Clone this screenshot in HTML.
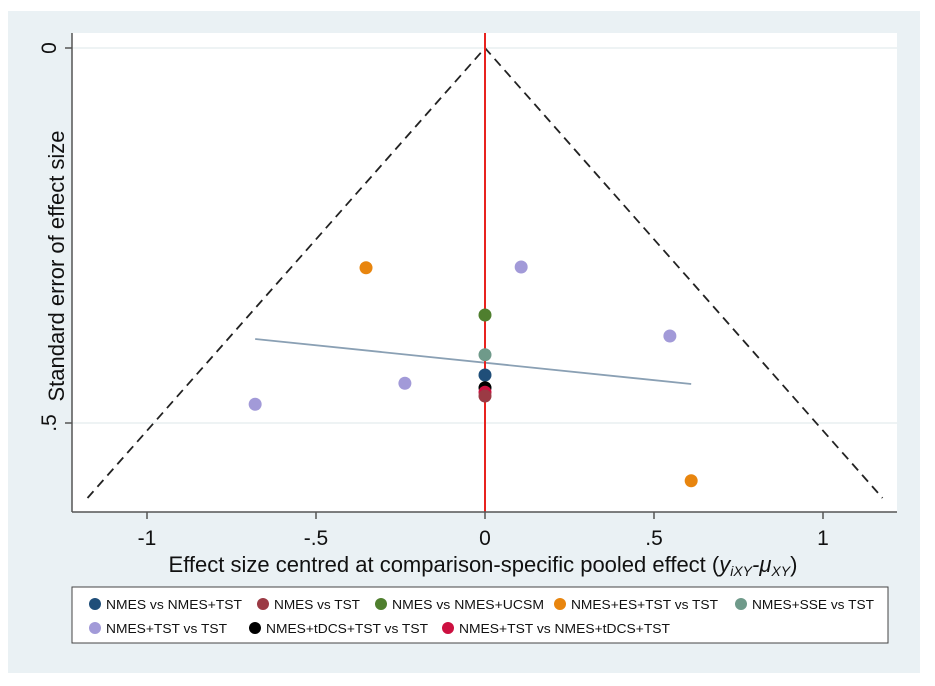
<!DOCTYPE html>
<html><head><meta charset="utf-8"><style>
body{margin:0;background:#fff;font-family:"Liberation Sans",sans-serif}
svg{display:block}
</style></head><body>
<svg id="c" width="935" height="686" xmlns="http://www.w3.org/2000/svg" font-family="Liberation Sans, sans-serif">
<rect x="8" y="11" width="912" height="662" fill="#eaf1f4"/>
<rect x="72" y="33" width="825" height="479" fill="#fff"/>
<g id="grid"></g>
<g id="marks"></g>
<line x1="72" y1="512" x2="897" y2="512" stroke="#555" stroke-width="1.5"/>
<line x1="72" y1="33" x2="72" y2="512" stroke="#555" stroke-width="1.5"/>
<g id="ticks"></g>
<text x="483" y="572" font-size="22" text-anchor="middle" fill="#111">Effect size centred at comparison-specific pooled effect (<tspan font-style="italic">y<tspan font-size="14" dy="4">iXY</tspan><tspan dy="-4">-μ</tspan><tspan font-size="14" dy="4">XY</tspan></tspan><tspan dy="-4">)</tspan></text>
<text transform="translate(64,266) rotate(-90)" font-size="22" text-anchor="middle" fill="#111">Standard error of effect size</text>
<rect x="72" y="587" width="816" height="56" fill="#fff" stroke="#444" stroke-width="1"/>
<g id="legend" font-size="13" fill="#111"></g>
</svg>
<script>
const seriesNames=["NMES vs NMES+TST","NMES vs TST","NMES vs NMES+UCSM","NMES+ES+TST vs TST","NMES+SSE vs TST","NMES+TST vs TST","NMES+tDCS+TST vs TST","NMES+TST vs NMES+tDCS+TST"];
const seriesColors=["#1f4e79","#9b3a44","#4f7f2e","#e8850e","#6f9a8a","#a29ad8","#000000","#cc1040"];
const pointSeries=[3,5,2,5,4,0,5,6,7,1,5,3];
const pointX=[-0.352,0.107,0,0.547,0,0,-0.237,0,0,0,-0.68,0.61];
const pointSE=[0.293,0.292,0.356,0.384,0.409,0.436,0.447,0.453,0.459,0.464,0.475,0.577];
const xTicks=[-1,-0.5,0,0.5,1];
const xTickLabels=["-1","-.5","0",".5","1"];
const yTicks=[0,0.5];
const yTickLabels=["0",".5"];
const regLineX=[-0.68,0.61];
const regLineSE=[0.388,0.448];
const ciMaxSE=[0.6];
const NS="http://www.w3.org/2000/svg";
const sx=v=>485+v*338, sy=v=>48+v*750;
function mk(tag,attrs,parent){const e=document.createElementNS(NS,tag);for(const k in attrs)e.setAttribute(k,attrs[k]);parent.appendChild(e);return e;}
const grid=document.getElementById('grid'),marks=document.getElementById('marks'),ticks=document.getElementById('ticks'),legend=document.getElementById('legend');
yTicks.forEach((t,i)=>{
 const g=mk('line',{x1:72,x2:897,y1:sy(t),y2:sy(t),stroke:'#e8eff1','stroke-width':1.5},grid);
 
 
 const tk=mk('line',{x1:65,x2:72,y1:sy(t),y2:sy(t),stroke:'#555','stroke-width':1.5},ticks);
 
 
 const tx=mk('text',{transform:`translate(${56},${sy(t)}) rotate(-90)`,'font-size':21,'text-anchor':'middle',fill:'#111'},ticks);
 tx.textContent=yTickLabels[i];
 
 
});
xTicks.forEach((t,i)=>{
 const tk=mk('line',{x1:sx(t),x2:sx(t),y1:512,y2:519,stroke:'#555','stroke-width':1.5},ticks);
 
 
 const tx=mk('text',{x:sx(t),y:545,'font-size':21,'text-anchor':'middle',fill:'#111'},ticks);
 tx.textContent=xTickLabels[i];
 
 
});
const m=ciMaxSE[0], z=1.96;
const ci=mk('polyline',{points:`${sx(-z*m)},${sy(m)} ${sx(0)},${sy(0)} ${sx(z*m)},${sy(m)}`,fill:'none',stroke:'#222','stroke-width':1.8,'stroke-dasharray':'9,6'},marks);


const rl=mk('line',{x1:sx(regLineX[0]),y1:sy(regLineSE[0]),x2:sx(regLineX[1]),y2:sy(regLineSE[1]),stroke:'#8aa0b4','stroke-width':1.8},marks);


const zl=mk('line',{x1:sx(0),x2:sx(0),y1:33,y2:512,stroke:'#e8231f','stroke-width':2},marks);


pointX.forEach((v,i)=>{
 const c=mk('circle',{cx:sx(v),cy:sy(pointSE[i]),r:6.5,fill:seriesColors[pointSeries[i]]},marks);
 
 
});
const legPos=[[95,604],[263,604],[381,604],[560,604],[741,604],[95,628],[255,628],[448,628]];
const legW=[136,86,152,147,122,121,162,211];
seriesNames.forEach((n,i)=>{
 const g=mk('g',{},legend);
 
 
 mk('circle',{cx:legPos[i][0],cy:legPos[i][1],r:6,fill:seriesColors[i]},g);
 const t=mk('text',{x:legPos[i][0]+11,y:legPos[i][1]+5,textLength:legW[i],lengthAdjust:'spacingAndGlyphs'},g);
 t.textContent=n;
});
</script>
</body></html>
